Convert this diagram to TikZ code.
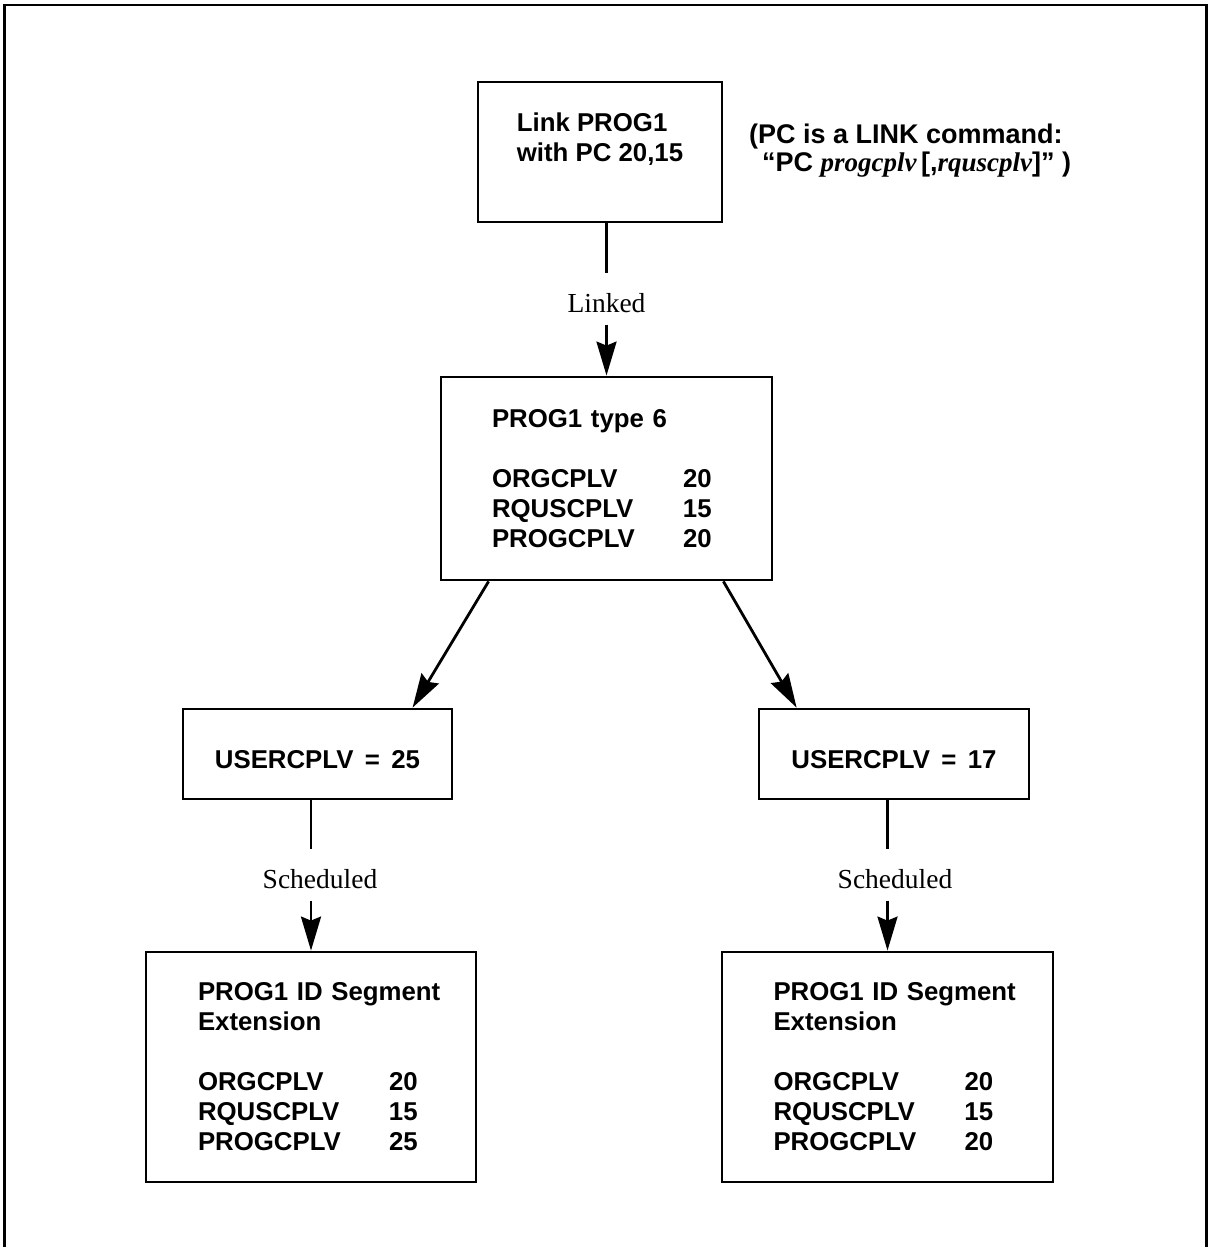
\documentclass[tikz,border=0pt]{standalone}
\usepackage{fontspec}
\setmainfont{Liberation Serif}
\newfontfamily\hvfont{Liberation Sans}
\usetikzlibrary{arrows.meta,calc}
\newcommand\nv[2]{\makebox[191pt][l]{#1}#2}
\begin{document}
\begin{tikzpicture}[x=1pt,y=-1pt,
  every node/.style={inner sep=0pt},
  box/.style={draw, line width=2.8pt, rectangle, align=left,
    font=\hvfont\bfseries\fontsize{25.8}{30}\selectfont},
  ln/.style={line width=2.8pt},
  arr/.style={line width=2.8pt, -{Stealth[length=34pt,width=20pt,inset=4pt]}},
  lbl/.style={font=\fontsize{27.5}{30}\selectfont, text height=38.5pt, text depth=12.5pt, anchor=base},
  note/.style={font=\hvfont\bfseries\fontsize{27}{30}\selectfont, anchor=base west}
]
\useasboundingbox (0,0) rectangle (1208,1247);
% outer frame (bottom edge lies below the picture)
\draw[line width=2.6pt] (4.5,1265) -- (4.5,5) -- (1206.5,5) -- (1206.5,1265);

% boxes
\node[box, minimum width=244pt, minimum height=140pt] (link) at (600,152)
  {Link PROG1\\with PC 20,15\rule[-29pt]{0pt}{29pt}};
\node[box, minimum width=331pt, minimum height=203pt, text width=229pt, inner xsep=51pt] (mid) at (606.5,478.5)
  {\mbox{PROG1 type 6}\\[30pt]\nv{ORGCPLV}{20}\\\nv{RQUSCPLV}{15}\\\nv{PROGCPLV}{20}};
\node[box, minimum width=269pt, minimum height=90pt] (usr1) at (317.5,754)
  {\rule{0pt}{28.5pt}USERCPLV\hspace{11.4pt}=\hspace{11.4pt}25};
\node[box, minimum width=270pt, minimum height=90pt] (usr2) at (894,754)
  {\rule{0pt}{28.5pt}USERCPLV\hspace{11.4pt}=\hspace{11.4pt}17};
\node[box, minimum width=330pt, minimum height=230pt, text width=226pt, inner xsep=52pt] (seg1) at (311,1067)
  {\mbox{PROG1 ID Segment}\\Extension\\[30pt]\nv{ORGCPLV}{20}\\\nv{RQUSCPLV}{15}\\\nv{PROGCPLV}{25}};
\node[box, minimum width=331pt, minimum height=230pt, text width=228pt, inner xsep=51.5pt] (seg2) at (887.5,1067)
  {\mbox{PROG1 ID Segment}\\Extension\\[30pt]\nv{ORGCPLV}{20}\\\nv{RQUSCPLV}{15}\\\nv{PROGCPLV}{20}};

% annotation
\node[note] (note1) at (749,143) {(PC is a LINK command:};
\node[note] (note2) at (762,171)
  {“PC {\rmfamily\bfseries\itshape progcplv}\,[,{\rmfamily\bfseries\itshape rquscplv}]” )};

% connector labels
\node[lbl] (linked) at (606.5,312) {Linked};
\node[lbl] (sch1) at (320,888) {Scheduled};
\node[lbl] (sch2) at (895,888) {Scheduled};

% connectors
\draw[ln] (mid.north |- link.south) -- (mid.north |- linked.north);
\draw[arr] (mid.north |- linked.south) -- (mid.north);
\draw[arr] ([xshift=49pt]mid.south west) -- ([xshift=231pt]usr1.north west);
\draw[arr] ([xshift=-50pt]mid.south east) -- ([xshift=39pt]usr2.north west);
\draw[ln] (seg1.north |- usr1.south) -- (seg1.north |- sch1.north);
\draw[arr] (seg1.north |- sch1.south) -- (seg1.north);
\draw[ln] (seg2.north |- usr2.south) -- (seg2.north |- sch2.north);
\draw[arr] (seg2.north |- sch2.south) -- (seg2.north);
\end{tikzpicture}
\end{document}
